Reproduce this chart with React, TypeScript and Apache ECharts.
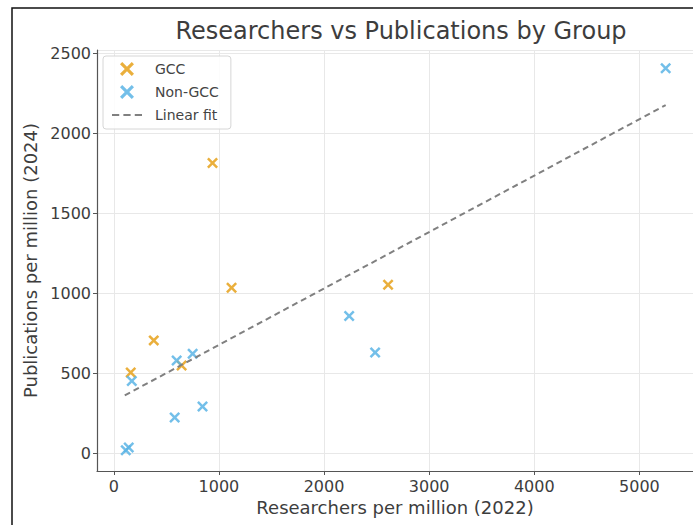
import React, { useEffect, useRef } from "react";
import * as echarts from "echarts";

// GCC points: [researchers per million (2022), publications per million (2024)]
const gccPoints: [number, number][] = [
  [161, 505],
  [380, 706],
  [645, 549],
  [939, 1814],
  [1120, 1035],
  [2609, 1054],
];

// Non-GCC points
const nonGccPoints: [number, number][] = [
  [114, 19],
  [142, 37],
  [171, 452],
  [579, 224],
  [598, 580],
  [750, 623],
  [844, 293],
  [2239, 858],
  [2486, 630],
  [5250, 2406],
];

// Linear fit line endpoints
const fitLine: [number, number][] = [
  [104, 362],
  [5250, 2176],
];

const title = "Researchers vs Publications by Group";
const xLabel = "Researchers per million (2022)";
const yLabel = "Publications per million (2024)";

const X_PATH =
  "path://M1.6,0 L5,3.4 L8.4,0 L10,1.6 L6.6,5 L10,8.4 L8.4,10 L5,6.6 L1.6,10 L0,8.4 L3.4,5 L0,1.6 Z";
const DASH_PATH =
  "path://M0,0 L7,0 L7,2 L0,2 Z M11,0 L18,0 L18,2 L11,2 Z M22,0 L29,0 L29,2 L22,2 Z";

export default function App() {
  const ref = useRef<HTMLDivElement>(null);
  useEffect(() => {
    if (!ref.current) return;
    const chart = echarts.init(ref.current, undefined, { renderer: "svg" });
    const font = "DejaVu Sans";
    chart.setOption({
      animation: false,
      backgroundColor: "#ffffff",
      textStyle: { fontFamily: font },
      title: {
        text: title,
        left: 396,
        top: 14,
        textAlign: "center",
        textStyle: {
          fontFamily: font,
          fontSize: 24,
          fontWeight: "normal",
          color: "#3d3d3d",
        },
      },
      legend: {
        left: 103,
        top: 56,
        orient: "vertical",
        itemGap: 9,
        itemWidth: 30,
        itemHeight: 14,
        padding: [6, 12, 7, 9],
        borderColor: "#d6d6d6",
        borderWidth: 1,
        borderRadius: 3,
        backgroundColor: "rgba(255,255,255,0.85)",
        textStyle: { fontFamily: font, fontSize: 14, color: "#444", padding: [0, 0, 0, 8] },
        data: [
          { name: "GCC", icon: X_PATH },
          { name: "Non-GCC", icon: X_PATH },
          { name: "Linear fit", icon: DASH_PATH, itemStyle: { color: "#808080" } },
        ],
      },
      grid: { left: 97, top: 50, width: 597, height: 421 },
      xAxis: {
        type: "value",
        min: -160,
        max: 5510,
        splitNumber: 5,
        name: xLabel,
        nameLocation: "middle",
        nameGap: 27,
        nameTextStyle: { fontFamily: font, fontSize: 18, color: "#3d3d3d" },
        axisLine: { show: true, onZero: false, lineStyle: { color: "#555", width: 1.2 } },
        axisTick: { show: true, length: 4, lineStyle: { color: "#555" } },
        axisLabel: {
          fontFamily: font,
          fontSize: 16,
          color: "#3d3d3d",
          margin: 7,
          showMinLabel: false,
          showMaxLabel: false,
          formatter: (v: number) => (v % 1000 === 0 && v >= 0 ? String(v) : ""),
        },
        splitLine: { show: true, lineStyle: { color: "#e8e8e8", width: 1 } },
      },
      yAxis: {
        type: "value",
        min: -110,
        max: 2520,
        splitNumber: 5,
        name: yLabel,
        nameLocation: "middle",
        nameGap: 57,
        nameTextStyle: { fontFamily: font, fontSize: 18, color: "#3d3d3d" },
        axisLine: { show: true, onZero: false, lineStyle: { color: "#555", width: 1.2 } },
        axisTick: { show: true, length: 4, lineStyle: { color: "#555" } },
        axisLabel: {
          fontFamily: font,
          fontSize: 16,
          color: "#3d3d3d",
          margin: 6,
          showMinLabel: false,
          showMaxLabel: false,
          formatter: (v: number) => (v % 500 === 0 && v >= 0 ? String(v) : ""),
        },
        splitLine: { show: true, lineStyle: { color: "#e8e8e8", width: 1 } },
      },
      graphic: [
        {
          type: "rect",
          shape: { x: 12, y: 8, width: 700, height: 600 },
          style: { fill: "none", stroke: "#111", lineWidth: 1.5 },
          silent: true,
          z: 100,
        },
      ],
      series: [
        {
          name: "GCC",
          type: "scatter",
          data: gccPoints,
          symbol: X_PATH,
          symbolSize: 11,
          itemStyle: { color: "#E6A11A", opacity: 0.85 },
          z: 3,
        },
        {
          name: "Non-GCC",
          type: "scatter",
          data: nonGccPoints,
          symbol: X_PATH,
          symbolSize: 11,
          itemStyle: { color: "#5AB4E5", opacity: 0.85 },
          z: 3,
        },
        {
          name: "Linear fit",
          type: "line",
          data: fitLine,
          showSymbol: false,
          symbol: "none",
          lineStyle: { color: "#808080", width: 2, type: [6, 4] },
          itemStyle: { color: "#808080" },
          z: 4,
        },
      ],
    });
    return () => chart.dispose();
  }, []);
  return (
    <div
      ref={ref}
      style={{ position: "fixed", left: 0, top: 0, width: 693, height: 525 }}
    />
  );
}
